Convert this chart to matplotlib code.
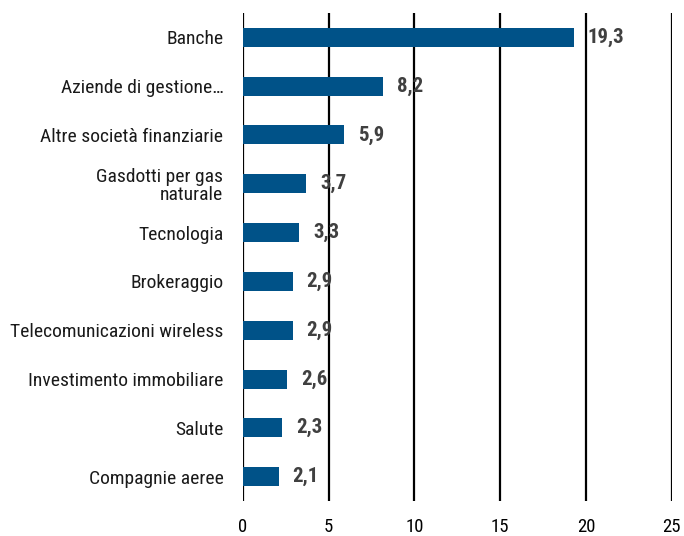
import matplotlib
matplotlib.use("Agg")
import matplotlib.pyplot as plt
from matplotlib import font_manager

categories = ["Banche", "Aziende di gestione…", "Altre società finanziarie",
              "Gasdotti per gas\nnaturale", "Tecnologia", "Brokeraggio",
              "Telecomunicazioni wireless", "Investimento immobiliare",
              "Salute", "Compagnie aeree"]
values = [19.3, 8.2, 5.9, 3.7, 3.3, 2.9, 2.9, 2.6, 2.3, 2.1]
xticks = [0, 5, 10, 15, 20, 25]

names = {f.name for f in font_manager.fontManager.ttflist}
fam = "Liberation Sans"
condensed = False
for cand in ["Liberation Sans Narrow", "Roboto Condensed", "Open Sans Condensed", "DejaVu Sans Condensed"]:
    if cand in names:
        fam = cand
        condensed = True
        break
plt.rcParams['font.family'] = [fam, 'DejaVu Sans']
lab_fs = 14 if condensed else 12.7
val_fs = 15 if condensed else 13
tick_fs = 13.5 if condensed else 12

fig = plt.figure(figsize=(6.84, 5.36), dpi=100)
ax = fig.add_axes([0.355, 0.065, 0.627, 0.911])

y = list(range(len(categories)))
ax.barh(y, values, height=0.39, color="#005288", zorder=3)
for yi, v in zip(y, values):
    ax.annotate(f"{v:.1f}".replace(".", ","), (v, yi), xytext=(10, 0),
                textcoords="offset points", va="center", ha="left",
                fontsize=val_fs, fontweight="bold", color="#404040", zorder=4)

ax.set_xlim(0, 25)
ax.set_ylim(len(categories) - 0.5, -0.5)
ax.set_xticks(xticks)
ax.set_xticklabels([str(t) for t in xticks], fontsize=tick_fs)
ax.set_yticks(y)
ax.set_yticklabels(categories, fontsize=lab_fs, ha="right", multialignment="right",
                   color="#1a1a1a", linespacing=1.05)
ax.tick_params(axis="both", length=0)
ax.tick_params(axis="y", pad=14)
ax.tick_params(axis="x", pad=12)
ax.grid(axis="x", color="black", linewidth=1.6, zorder=1)
for s in ax.spines.values():
    s.set_visible(False)

fig.savefig("out.png", dpi=100)
